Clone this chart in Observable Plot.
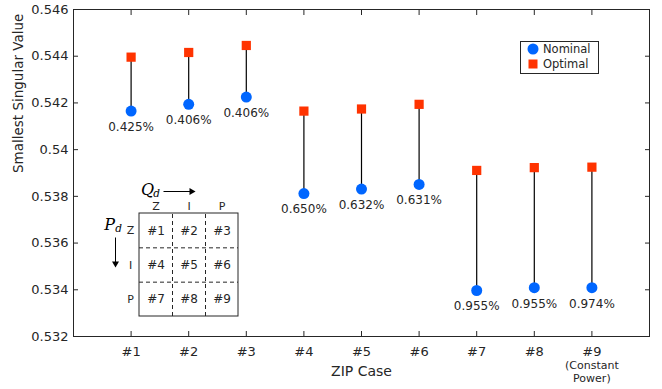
<!DOCTYPE html>
<html>
<head>
<meta charset="utf-8">
<script src="https://cdn.jsdelivr.net/npm/d3@7"></script>
<script src="https://cdn.jsdelivr.net/npm/@observablehq/plot@0.6"></script>
<style>
  body { margin: 0; background: #fff; }
  #wrap { position: relative; width: 662px; height: 389px; font-family: "DejaVu Sans", sans-serif; color: #262626; }
  #legend { position: absolute; left: 520px; top: 41px; width: 77px; height: 31px; border: 1px solid #262626; background: #fff; font-size: 11.5px; }
  #legend .row { position: absolute; left: 0; height: 14px; display: flex; align-items: center; }
  #legend svg { margin-left: 6px; margin-right: 4px; }
</style>
</head>
<body>
<div id="wrap"><div id="legend"></div></div>
<script>
// ---- data ----
const cases = [1, 2, 3, 4, 5, 6, 7, 8, 9];
const caseLabels = ["#1", "#2", "#3", "#4", "#5", "#6", "#7", "#8", "#9"];
const caseNote = "(Constant\nPower)";
const nominal = [0.54165, 0.54194, 0.54225, 0.53812, 0.53831, 0.53851, 0.53397, 0.53409, 0.53409];
const optimal = [0.54396, 0.54416, 0.54446, 0.54165, 0.54174, 0.54194, 0.53911, 0.53923, 0.53925];
const improvement = ["0.425%", "0.406%", "0.406%", "0.650%", "0.632%", "0.631%", "0.955%", "0.955%", "0.974%"];
const yTicks = [0.532, 0.534, 0.536, 0.538, 0.54, 0.542, 0.544, 0.546];
const seriesNames = ["Nominal", "Optimal"];
const seriesColors = ["#0066ff", "#ff3300"];
const xLabel = "ZIP Case";
const yLabel = "Smallest Singular Value";
// inset table (ZIP case matrix)
const insetCols = ["Z", "I", "P"];
const insetRows = ["Z", "I", "P"];
const insetCells = ["#1", "#2", "#3", "#4", "#5", "#6", "#7", "#8", "#9"];

const data = cases.map((c, i) => ({case: c, nominal: nominal[i], optimal: optimal[i], pct: improvement[i]}));

// layout of the inset, in data units
const xDomain = [0, 10], yDomain = [0.532, 0.546];
const W = 662, H = 389, mL = 73, mR = 13, mT = 9, mB = 53;
const pxX = (xDomain[1] - xDomain[0]) / (W - mL - mR);
const pxY = (yDomain[1] - yDomain[0]) / (H - mT - mB);
const bx0 = xDomain[0] + (139 - mL) * pxX, bx1 = xDomain[0] + (238 - mL) * pxX;
const by1 = yDomain[1] - (213 - mT) * pxY, by0 = yDomain[1] - (316 - mT) * pxY;
const cw = (bx1 - bx0) / 3, rh = (by1 - by0) / 3;
const cellData = insetCells.map((t, i) => ({t, x: bx0 + (i % 3 + 0.5) * cw, y: by1 - (Math.floor(i / 3) + 0.5) * rh}));
const colData = insetCols.map((t, i) => ({t, x: bx0 + (i + 0.5) * cw}));
const rowData = insetRows.map((t, i) => ({t, y: by1 - (i + 0.5) * rh}));
const qArrow = {x1: bx0 + 24 * pxX, x2: bx0 + 52 * pxX, y: by1 + 22 * pxY};
const pArrow = {x: bx0 - 24 * pxX, y1: by1 - 24 * pxY, y2: by1 - 50 * pxY};

const fmt = d => String(+d.toFixed(3));
const ink = "#262626";

const chart = Plot.plot({
  width: W, height: H,
  marginLeft: mL, marginRight: mR, marginTop: mT, marginBottom: mB,
  style: {fontFamily: "DejaVu Sans, sans-serif", fontSize: "13px", color: ink, background: "white", overflow: "visible"},
  x: {domain: xDomain},
  y: {domain: yDomain},
  marks: [
    Plot.frame({stroke: ink}),
    Plot.axisX(cases, {anchor: "bottom", tickSize: -5, tickPadding: 15, tickFormat: d => caseLabels[cases.indexOf(d)], label: null, stroke: ink, fill: ink, fontSize: 13}),
    Plot.axisX(cases, {anchor: "top", tickSize: -5, tickFormat: () => "", label: null, stroke: ink}),
    Plot.axisY(yTicks, {anchor: "left", tickSize: -5, tickPadding: 10, tickFormat: fmt, label: null, stroke: ink, fill: ink, fontSize: 13}),
    Plot.axisY(yTicks, {anchor: "right", tickSize: -5, tickFormat: () => "", label: null, stroke: ink}),
    Plot.text([xLabel], {frameAnchor: "bottom", dy: 39, fontSize: 14, fill: ink}),
    Plot.text([caseNote], {x: 9, frameAnchor: "bottom", lineAnchor: "top", dy: 24, fontSize: 11, lineHeight: 1.15, fill: ink}),
    Plot.text([yLabel], {frameAnchor: "left", dx: -55, rotate: -90, fontSize: 13.5, fill: ink}),
    // inset table
    Plot.rect([0], {x1: bx0, x2: bx1, y1: by0, y2: by1, stroke: ink, fill: "none"}),
    Plot.ruleX([1, 2], {x: d => bx0 + d * cw, y1: by0, y2: by1, stroke: ink, strokeDasharray: "4,3"}),
    Plot.ruleY([1, 2], {y: d => by1 - d * rh, x1: bx0, x2: bx1, stroke: ink, strokeDasharray: "4,3"}),
    Plot.text(cellData, {x: "x", y: "y", text: "t", fontSize: 12, fill: ink}),
    Plot.text(colData, {x: "x", y: by1, text: "t", dy: -7, fontSize: 11, fill: ink}),
    Plot.text(rowData, {x: bx0, y: "y", text: "t", dx: -9, fontSize: 11, fill: ink}),
    Plot.text(["Q"], {x: bx0, y: by1, dx: 8, dy: -24, fontSize: 16, fontStyle: "italic", fontFamily: "DejaVu Serif, serif", fill: "black"}),
    Plot.text(["d"], {x: bx0, y: by1, dx: 17, dy: -20, fontSize: 10.5, fontStyle: "italic", fontFamily: "DejaVu Serif, serif", fill: "black"}),
    Plot.link([qArrow], {x1: "x1", x2: "x2", y1: "y", y2: "y", stroke: "black"}),
    Plot.dot([qArrow], {x: "x2", y: "y", symbol: "triangle", rotate: 90, r: 2.6, fill: "black"}),
    Plot.text(["P"], {x: bx0, y: by1, dx: -30, dy: 11, fontSize: 16, fontStyle: "italic", fontFamily: "DejaVu Serif, serif", fill: "black"}),
    Plot.text(["d"], {x: bx0, y: by1, dx: -21, dy: 15, fontSize: 10.5, fontStyle: "italic", fontFamily: "DejaVu Serif, serif", fill: "black"}),
    Plot.link([pArrow], {x1: "x", x2: "x", y1: "y1", y2: "y2", stroke: "black"}),
    Plot.dot([pArrow], {x: "x", y: "y2", symbol: "triangle", rotate: 180, r: 2.6, fill: "black"}),
    // stems and points
    Plot.ruleX(data, {x: "case", y1: "nominal", y2: "optimal", stroke: "black", strokeWidth: 1.2}),
    Plot.dot(data, {x: "case", y: "nominal", r: 5.5, fill: seriesColors[0], symbol: "circle"}),
    Plot.dot(data, {x: "case", y: "optimal", r: 5.2, fill: seriesColors[1], symbol: "square"}),
    Plot.text(data, {x: "case", y: "nominal", text: "pct", dy: 16, fontSize: 12, fill: ink})
  ]
});
const wrap = document.getElementById("wrap");
wrap.insertBefore(chart, wrap.firstChild);

// legend
const legend = document.getElementById("legend");
seriesNames.forEach((name, i) => {
  const row = document.createElement("div");
  row.className = "row";
  row.style.top = (i === 0 ? 0 : 15) + "px";
  const shape = i === 0
    ? `<circle cx="6" cy="6" r="5.5" fill="${seriesColors[i]}"/>`
    : `<rect x="1.5" y="1.5" width="9" height="9" fill="${seriesColors[i]}"/>`;
  row.innerHTML = `<svg width="12" height="12">${shape}</svg><span>${name}</span>`;
  legend.appendChild(row);
});
</script>
</body>
</html>
